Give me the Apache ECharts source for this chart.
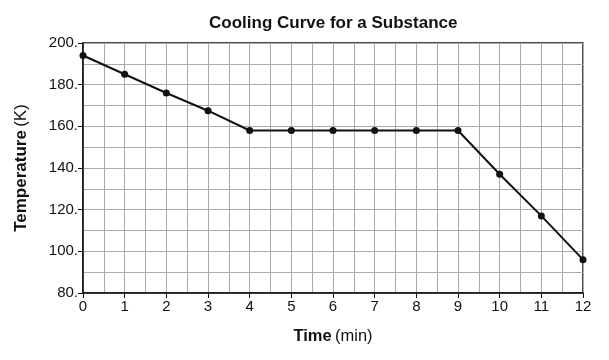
<!DOCTYPE html>
<html><head><meta charset="utf-8">
<script src="https://cdn.jsdelivr.net/npm/echarts@6/dist/echarts.min.js"></script>
<style>html,body{margin:0;padding:0;background:#fff}#c{width:609px;height:360px}</style>
</head><body><div id="c"></div>
<script>
const times = [0,1,2,3,4,5,6,7,8,9,10,11,12];
const temps = [194,185,176,167.5,158,158,158,158,158,158,137,117,96];
const yTicks = [80,100,120,140,160,180,200];
const titleText = 'Cooling Curve for a Substance';
const font = '"Liberation Sans", Arial, Helvetica, sans-serif';

const chart = echarts.init(document.getElementById('c'), null, {renderer:'canvas'});
chart.setOption({
  animation:false,
  backgroundColor:'#fff',
  title:{text:titleText,left:204,top:10,
    textStyle:{fontFamily:font,fontSize:17,fontWeight:'bold',color:'#111'}},
  grid:{left:83,right:26,top:43,bottom:67,show:true,borderColor:'#111',borderWidth:1.5,backgroundColor:'transparent'},
  xAxis:{type:'value',min:0,max:12,interval:1,
    name:'{b|Time} {r|(min)}',nameLocation:'middle',nameGap:35,
    nameTextStyle:{rich:{b:{fontFamily:font,fontSize:16.5,fontWeight:'bold',color:'#111'},r:{fontFamily:font,fontSize:16.5,color:'#111'}}},
    axisLine:{show:true,lineStyle:{color:'#111',width:1.5}},
    axisTick:{show:true,length:5,lineStyle:{color:'#111'}},
    axisLabel:{fontFamily:font,fontSize:15,color:'#111',margin:6},
    splitLine:{show:true,lineStyle:{color:'#aaa',width:1}},
    minorTick:{show:false,splitNumber:2},
    minorSplitLine:{show:true,lineStyle:{color:'#aaa',width:1}}
  },
  yAxis:{type:'value',min:80,max:200,interval:20,
    name:'{b|Temperature} {r|(K)}',nameLocation:'middle',nameGap:53,nameRotate:90,
    nameTextStyle:{rich:{b:{fontFamily:font,fontSize:17,fontWeight:'bold',color:'#111'},r:{fontFamily:font,fontSize:17,color:'#111'}}},
    axisLine:{show:true,lineStyle:{color:'#111',width:1.5}},
    axisTick:{show:true,length:5,lineStyle:{color:'#111'}},
    axisLabel:{fontFamily:font,fontSize:15,color:'#111',margin:5,formatter:v=>yTicks.includes(v)?v+'.':''},
    splitLine:{show:true,lineStyle:{color:'#aaa',width:1}},
    minorTick:{show:false,splitNumber:2},
    minorSplitLine:{show:true,lineStyle:{color:'#aaa',width:1}}
  },
  series:[{type:'line',data:times.map((t,i)=>[t,temps[i]]),
    lineStyle:{color:'#111',width:2},
    symbol:'circle',symbolSize:7,itemStyle:{color:'#111'},clip:false}]
});
</script></body></html>
